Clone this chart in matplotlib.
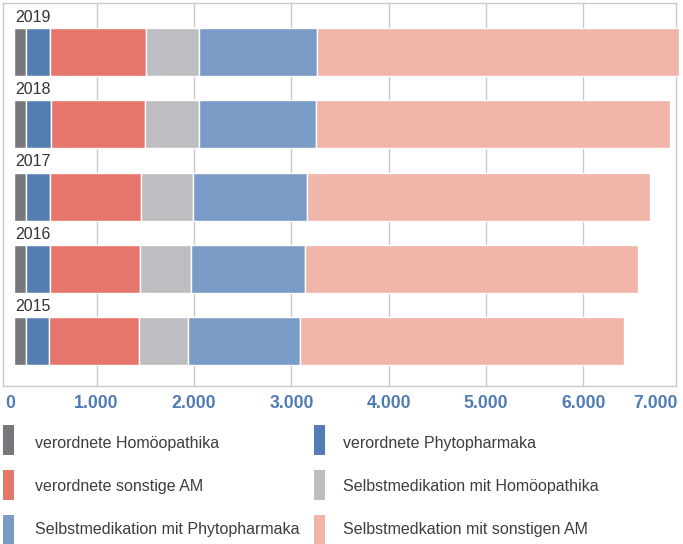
import matplotlib
matplotlib.use("Agg")
import matplotlib.pyplot as plt
from matplotlib.patches import Rectangle
from matplotlib.transforms import blended_transform_factory

# Umsatz nach Segmenten (Mio. EUR), je Jahr
years = ["2015", "2016", "2017", "2018", "2019"]
verordnete_homoeopathika = [121, 121, 121, 123, 121]
verordnete_phytopharmaka = [238, 252, 246, 257, 245]
verordnete_sonstige_am = [927, 919, 935, 963, 987]
selbst_homoeopathika = [498, 526, 536, 555, 552]
selbst_phytopharmaka = [1150, 1166, 1168, 1202, 1207]
selbst_sonstige_am = [3327, 3422, 3529, 3641, 3721]

series_labels = [
    "verordnete Homöopathika",
    "verordnete Phytopharmaka",
    "verordnete sonstige AM",
    "Selbstmedikation mit Homöopathika",
    "Selbstmedikation mit Phytopharmaka",
    "Selbstmedkation mit sonstigen AM",
]
x_ticks = [1000, 2000, 3000, 4000, 5000, 6000]
x_tick_labels = ["1.000", "2.000", "3.000", "4.000", "5.000", "6.000"]

series = [
    verordnete_homoeopathika,
    verordnete_phytopharmaka,
    verordnete_sonstige_am,
    selbst_homoeopathika,
    selbst_phytopharmaka,
    selbst_sonstige_am,
]
colors = ["#77787c", "#547eb3", "#e6766b", "#bdbec2", "#7b9bc7", "#f1b4a9"]

W, H = 683, 544
plt.rcParams["font.family"] = ["Liberation Sans", "DejaVu Sans"]
fig = plt.figure(figsize=(W / 100, H / 100), dpi=100)


def fx(px):
    return px / W


def fy(py):
    return 1 - py / H


ax = fig.add_axes([fx(3), fy(385.7), fx(675.7) - fx(3), fy(2.7) - fy(385.7)])

grid_color = "#c9c9c9"
bar_start = 152
bar_height = 0.664

# 2019 at the top
ypos = {yr: len(years) - 1 - i for i, yr in enumerate(years)}
for i, yr in enumerate(years):
    left = bar_start
    for vals, col in zip(series, colors):
        ax.barh(ypos[yr], vals[i], left=left, height=bar_height, color=col,
                edgecolor="white", linewidth=1.0, zorder=3, clip_on=False)
        left += vals[i]

ax.set_xlim(39, 6948)
ax.set_ylim(len(years) - 1 + 0.615, -0.682)

ax.set_xticks(x_ticks)
ax.set_xticklabels(x_tick_labels)
ax.set_yticks([])
ax.tick_params(axis="x", length=0, pad=6.5, labelsize=12.7, labelcolor="#4f7bb4")
for lbl in ax.get_xticklabels():
    lbl.set_fontweight("bold")
ax.grid(axis="x", color=grid_color, linewidth=1.0, zorder=1)
ax.set_axisbelow(True)
for sp in ax.spines.values():
    sp.set_color(grid_color)
    sp.set_linewidth(1.0)
    sp.set_zorder(1.5)

# End labels of the scale
for frac, txt in [((10 - 3) / 672.7, "0"), ((655 - 3) / 672.7, "7.000")]:
    ax.annotate(txt, xy=(frac, 0), xycoords="axes fraction", xytext=(0, -6.5),
                textcoords="offset points", ha="center", va="top",
                fontsize=12.7, fontweight="bold", color="#4f7bb4")

# Year labels above each bar
ytrans = blended_transform_factory(ax.transAxes, ax.transData)
for yr in years:
    ax.text((15 - 3) / 672.7, ypos[yr] - 0.419, yr, transform=ytrans,
            ha="left", va="baseline", fontsize=11.5, color="#333333")

# Legend in two columns
marker_x = [3, 314]
text_x = [35, 342.7]
marker_top = [425, 470, 515]
text_base = [448, 491, 534]
for k, (lab, col) in enumerate(zip(series_labels, colors)):
    r, c = divmod(k, 2)
    fig.add_artist(Rectangle((fx(marker_x[c]), fy(marker_top[r] + 30)),
                             fx(11), 30 / H, transform=fig.transFigure,
                             facecolor=col, edgecolor="none"))
    fig.text(fx(text_x[c]), fy(text_base[r]), lab, ha="left", va="baseline",
             fontsize=11.5, color="#3d3d3d")

fig.savefig("out.png", dpi=100)
